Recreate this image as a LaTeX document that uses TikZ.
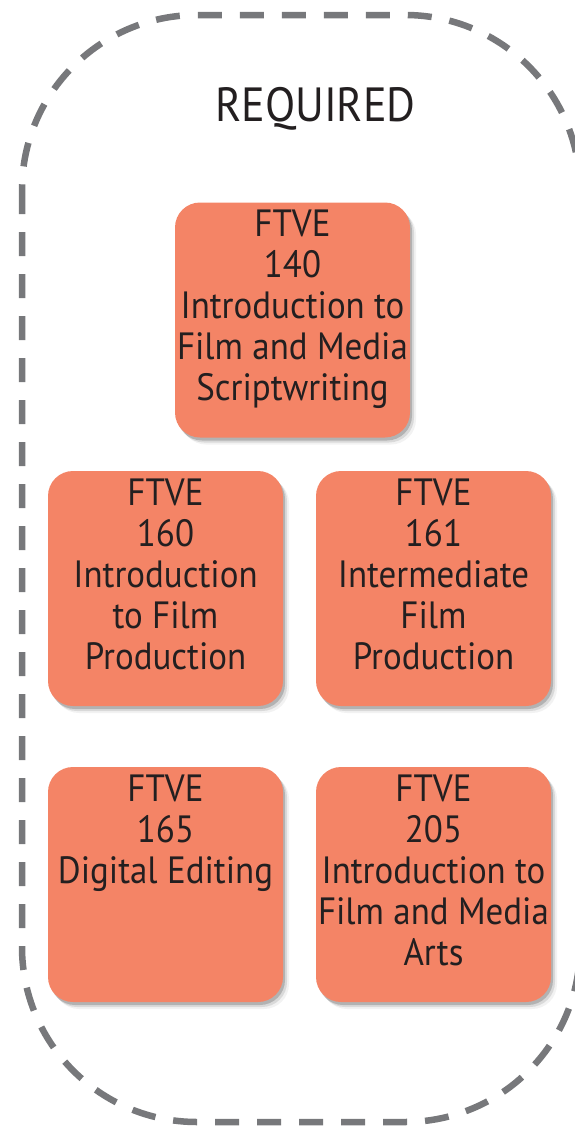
\documentclass[tikz,border=0pt]{standalone}
\usepackage{fontspec}
\setmainfont{PT Sans}[FakeStretch=0.92]
\usetikzlibrary{shadows}
\definecolor{boxfill}{HTML}{F48466}
\definecolor{ink}{HTML}{231F20}
\definecolor{dashgray}{HTML}{77787B}
\tikzset{
  course/.style={draw=none, fill=boxfill, rounded corners=25pt, inner sep=0pt,
    text=ink,
    drop shadow={shadow xshift=2pt, shadow yshift=-3pt, opacity=.18, fill=black},
    drop shadow={shadow xshift=4pt, shadow yshift=-5pt, opacity=.10, fill=black},
    drop shadow={shadow xshift=6pt, shadow yshift=-7pt, opacity=.05, fill=black}},
  outline/.style={draw=dashgray, line width=6.5pt, dash pattern=on 24pt off 18pt, rounded corners=175pt},
  heading/.style={text=ink, font=\fontsize{48}{52}\selectfont, inner sep=0pt, anchor=base}
}
\newcommand{\coursetext}[1]{\parbox[t][235pt][t]{235pt}{\vspace*{5.3pt}\centering\fontsize{38}{41}\selectfont
\begin{tabular}[t]{@{}c@{}}#1\end{tabular}}}
\begin{document}
\begin{tikzpicture}[x=1pt,y=-1pt]
\useasboundingbox (0,0) rectangle (575,1127);
\draw[outline] (22,15) rectangle (580,1122);
\node[heading] (req) at (315.5,121) {REQUIRED};
\node[course] (c140) at (292.5,320) {\coursetext{FTVE\\140\\Introduction to\\Film and Media\\Scriptwriting}};
\node[course] (c160) at (165.5,588.5) {\coursetext{FTVE\\160\\Introduction\\to Film\\Production}};
\node[course] (c161) at (433.5,588.5) {\coursetext{FTVE\\161\\Intermediate\\Film\\Production}};
\node[course] (c165) at (165.5,884.5) {\coursetext{FTVE\\165\\Digital Editing}};
\node[course] (c205) at (433.5,884.5) {\coursetext{FTVE\\205\\Introduction to\\Film and Media\\Arts}};
\end{tikzpicture}
\end{document}
